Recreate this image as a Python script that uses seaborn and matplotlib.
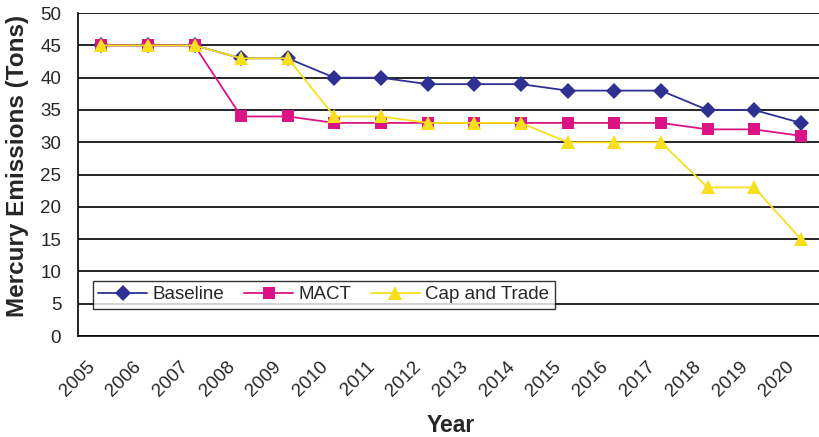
import matplotlib
matplotlib.use("Agg")
import matplotlib.pyplot as plt
import matplotlib.transforms as mtransforms
import seaborn as sns
import pandas as pd
from matplotlib.ticker import FixedLocator, MultipleLocator

years = [str(y) for y in range(2005, 2021)]
baseline = [45, 45, 45, 43, 43, 40, 40, 39, 39, 39, 38, 38, 38, 35, 35, 33]
mact = [45, 45, 45, 34, 34, 33, 33, 33, 33, 33, 33, 33, 33, 32, 32, 31]
cap_trade = [45, 45, 45, 43, 43, 34, 34, 33, 33, 33, 30, 30, 30, 23, 23, 15]
series_names = ["Baseline", "MACT", "Cap and Trade"]

frames = []
for name, vals in zip(series_names, [baseline, mact, cap_trade]):
    frames.append(pd.DataFrame({"idx": range(len(years)), "value": vals, "series": name}))
df = pd.concat(frames, ignore_index=True)

sns.set_style("white")
plt.rcParams["font.family"] = ["Liberation Sans", "DejaVu Sans"]

fig = plt.figure(figsize=(8.2, 4.37), dpi=100)
ax = fig.add_axes([0.095, 0.231, 0.905, 0.739])

palette = {"Baseline": "#2E3192", "MACT": "#DA1484", "Cap and Trade": "#F7DF1E"}
markers = {"Baseline": "D", "MACT": "s", "Cap and Trade": "^"}
sizes = {"Baseline": 8, "MACT": 9, "Cap and Trade": 10}

for name in series_names:
    sub = df[df["series"] == name]
    sns.lineplot(data=sub, x="idx", y="value", ax=ax, color=palette[name],
                 marker=markers[name], markersize=sizes[name], markeredgewidth=0,
                 linewidth=1.3, label=name, zorder=3)

ax.set_xlim(-0.5, 15.41)
ax.set_ylim(0, 50)
ax.yaxis.set_major_locator(MultipleLocator(5))
ax.grid(axis="y", color="black", linewidth=1.2, zorder=0)
ax.set_axisbelow(True)

# tick marks at category boundaries; year labels drawn under each category
ax.xaxis.set_major_locator(FixedLocator([i - 0.5 for i in range(len(years) + 1)]))
ax.xaxis.set_ticklabels([])
ax.tick_params(axis="x", which="major", length=6, width=1, color="black", direction="out")
label_offset = mtransforms.ScaledTranslation(-15 / 100, -22 / 100, fig.dpi_scale_trans)
label_trans = ax.get_xaxis_transform() + label_offset
for i, yr in enumerate(years):
    ax.text(i, 0, yr, transform=label_trans, rotation=45, rotation_mode="anchor",
            ha="right", va="top", fontsize=13.5, clip_on=False)

ax.tick_params(axis="y", which="major", length=8, width=1, color="black", direction="out",
               labelsize=13.5, pad=4)

for side in ["top", "right"]:
    ax.spines[side].set_visible(False)
for side in ["left", "bottom"]:
    ax.spines[side].set_color("black")
    ax.spines[side].set_linewidth(1.2)

ax.set_xlabel("Year", fontsize=16.5, fontweight="bold")
ax.set_ylabel("Mercury Emissions (Tons)", fontsize=17.5, fontweight="bold")
ax.xaxis.set_label_coords(0.502, -0.24)
ax.yaxis.set_label_coords(-0.066, 0.526)

leg = ax.legend(loc="lower left", bbox_to_anchor=(0.020, 0.084), ncol=3, frameon=True,
                fancybox=False, edgecolor="black", fontsize=13.5, handlelength=2.6,
                columnspacing=1.05, handletextpad=0.3, borderpad=0.3, borderaxespad=0)
leg.get_frame().set_linewidth(1.0)

fig.savefig("out.png", dpi=100)
